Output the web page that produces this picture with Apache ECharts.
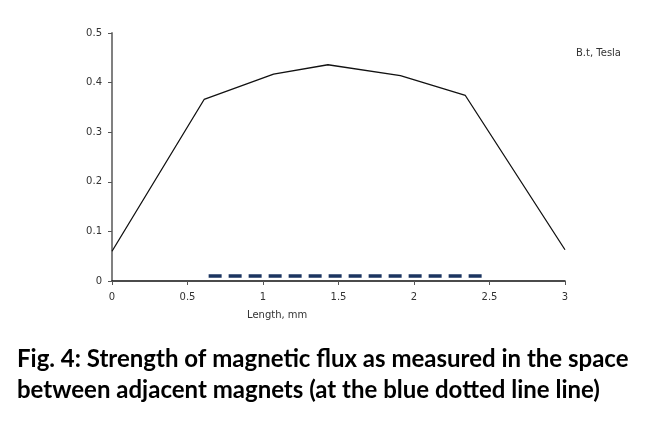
<!DOCTYPE html>
<html><head><meta charset="utf-8">
<script src="https://cdn.jsdelivr.net/npm/echarts@6/dist/echarts.min.js"></script>
<style>html,body{margin:0;padding:0;background:#fff}#c{width:663px;height:435px}</style>
</head><body><div id="c"></div>
<script>
// Magnetic flux profile (x: length in mm, y: B.t in Tesla)
const lengthMm = [0, 0.61, 1.07, 1.43, 1.91, 2.34, 3];
const fluxTesla = [0.06, 0.366, 0.417, 0.436, 0.414, 0.374, 0.063];
// Blue dotted line (measurement location)
const gapX = [0.64, 2.45];
const gapY = [0.01, 0.01];
const xTicks = [0, 0.5, 1, 1.5, 2, 2.5, 3];
const yTicks = [0, 0.1, 0.2, 0.3, 0.4, 0.5];

const chart = echarts.init(document.getElementById('c'), null, {renderer: 'canvas'});
const lab = {color: '#333', fontFamily: 'DejaVu Sans', fontSize: 10};
chart.setOption({
  animation: false,
  grid: {left: 112, right: 98, top: 33, bottom: 154},
  xAxis: {
    type: 'value', min: xTicks[0], max: xTicks[xTicks.length - 1], interval: 0.5,
    axisLine: {lineStyle: {color: '#111', width: 1.5}},
    axisTick: {show: true, length: 4, lineStyle: {color: '#555'}},
    axisLabel: Object.assign({margin: 11}, lab),
    splitLine: {show: false}
  },
  yAxis: {
    type: 'value', min: yTicks[0], max: yTicks[yTicks.length - 1], interval: 0.1,
    axisLine: {show: true, lineStyle: {color: '#808080', width: 2}},
    axisTick: {show: true, length: 4, lineStyle: {color: '#555'}},
    axisLabel: Object.assign({margin: 10}, lab),
    splitLine: {show: false}
  },
  series: [
    {
      type: 'line', data: lengthMm.map((x, i) => [x, fluxTesla[i]]),
      symbol: 'none', lineStyle: {color: '#111', width: 1.3}
    },
    {
      type: 'line', data: gapX.map((x, i) => [x, gapY[i]]),
      symbol: 'none', lineStyle: {color: '#1b3560', width: 3.5, type: [13, 7]}
    }
  ],
  graphic: [
    {type: 'text', left: 247, top: 310, style: {text: 'Length, mm', fill: '#333', font: '10px "DejaVu Sans"'}},
    {type: 'text', left: 576, top: 48, style: {text: 'B.t, Tesla', fill: '#333', font: '10px "DejaVu Sans"'}},
    {type: 'text', left: 17, top: 344, style: {text: 'Fig. 4: Strength of magnetic flux as measured in the space\nbetween adjacent magnets (at the blue dotted line line)', fill: '#000', font: 'bold 24px Lato', lineHeight: 31}}
  ]
});
</script></body></html>
